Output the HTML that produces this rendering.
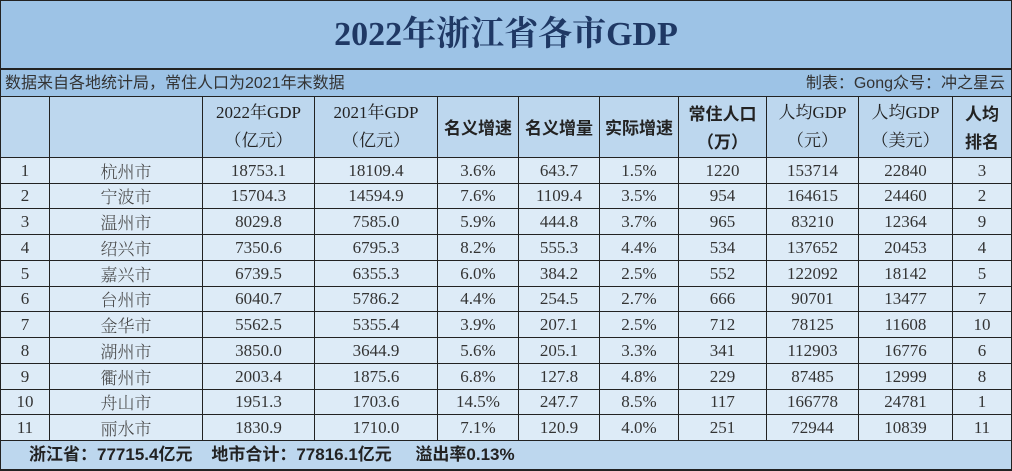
<!DOCTYPE html>
<html><head><meta charset="utf-8"><style>
body{margin:0;width:1012px;height:471px;overflow:hidden;background:#fff;font-family:"Liberation Serif","Noto Serif CJK SC",serif;}
#t{position:absolute;left:0;top:0;width:1012px;height:471px;}
.c{position:absolute;box-sizing:border-box;border-right:1px solid #222;border-bottom:1px solid #222;display:flex;align-items:center;justify-content:center;text-align:center;color:#333;font-size:17px;line-height:28px;}
</style></head><body>
<div id="t"></div>
<script>
const ranks=[1,2,3,4,5,6,7,8,9,10,11];
const cities=["杭州市","宁波市","温州市","绍兴市","嘉兴市","台州市","金华市","湖州市","衢州市","舟山市","丽水市"];
const gdp2022=["18753.1","15704.3","8029.8","7350.6","6739.5","6040.7","5562.5","3850.0","2003.4","1951.3","1830.9"];
const gdp2021=["18109.4","14594.9","7585.0","6795.3","6355.3","5786.2","5355.4","3644.9","1875.6","1703.6","1710.0"];
const nomGrowth=["3.6%","7.6%","5.9%","8.2%","6.0%","4.4%","3.9%","5.6%","6.8%","14.5%","7.1%"];
const nomIncrease=["643.7","1109.4","444.8","555.3","384.2","254.5","207.1","205.1","127.8","247.7","120.9"];
const realGrowth=["1.5%","3.5%","3.7%","4.4%","2.5%","2.7%","2.5%","3.3%","4.8%","8.5%","4.0%"];
const population=["1220","954","965","534","552","666","712","341","229","117","251"];
const perCapitaCny=["153714","164615","83210","137652","122092","90701","78125","112903","87485","166778","72944"];
const perCapitaUsd=["22840","24460","12364","20453","18142","13477","11608","16776","12999","24781","10839"];
const perCapitaRank=["3","2","9","4","5","7","10","6","8","1","11"];
const B="<b style='font-family:\"Noto Sans CJK SC\",sans-serif'>";
const headers=["","","2022年GDP<br>（亿元）","2021年GDP<br>（亿元）",B+"名义增速</b>",B+"名义增量</b>",B+"实际增速</b>",B+"常住人口<br>（万）</b>","人均GDP<br>（元）","人均GDP<br>（美元）",B+"人均<br>排名</b>"];
const colX=[0,50,203,315,438,519,600,679,767,859,953,1012];
const t=document.getElementById('t');
function cell(x,y,w,h,html,bg,name,extra){
  const d=document.createElement('div');
  d.className='c';
  
  
  d.style.cssText+=`left:${x}px;top:${y}px;width:${w}px;height:${h}px;background:${bg};`+(extra||'');
  d.innerHTML=html;t.appendChild(d);return d;
}
cell(0,0,1012,70,"2022年浙江省各市GDP","#9dc3e6","title","border-top:1px solid #222;border-left:1px solid #222;font-weight:bold;font-size:34px;color:#1f3864;font-family:'Liberation Serif','Noto Serif CJK SC',serif;border-bottom:2px solid #222;");
cell(0,70,1012,27,"","#9dc3e6","subtitle-row","border-left:1px solid #222;");
cell(0,70,700,27,"数据来自各地统计局，常住人口为2021年末数据","transparent","source-note","border:none;justify-content:flex-start;padding-left:5px;font-size:16px;font-family:'Liberation Sans','Noto Sans CJK SC',sans-serif;color:#333;");
cell(600,70,405,27,"制表：Gong众号：冲之星云","transparent","author-note","border:none;justify-content:flex-end;font-size:16px;font-family:'Liberation Sans','Noto Sans CJK SC',sans-serif;color:#333;");
for(let i=0;i<11;i++){
  cell(colX[i],97,colX[i+1]-colX[i],61,headers[i],"#bdd7ee","header-cell",(i==0?"border-left:1px solid #222;":"")+"color:#222;");
}
const rowH=283/11;
for(let r=0;r<11;r++){
  const y=Math.round(158+r*rowH);
  const y2=Math.round(158+(r+1)*rowH);
  const vals=[ranks[r],cities[r],gdp2022[r],gdp2021[r],nomGrowth[r],nomIncrease[r],realGrowth[r],population[r],perCapitaCny[r],perCapitaUsd[r],perCapitaRank[r]];
  for(let i=0;i<11;i++){
    cell(colX[i],y,colX[i+1]-colX[i],y2-y,vals[i],"#ddebf7","data-cell",(i==0?"border-left:1px solid #222;":"")+(i==1?"font-family:'Noto Serif CJK SC',serif;font-weight:300;color:#444;":""));
  }
}
cell(0,441,1012,30,"浙江省：77715.4亿元&nbsp;&nbsp;&nbsp;&nbsp;地市合计：77816.1亿元&nbsp;&nbsp;&nbsp;&nbsp;&nbsp;溢出率0.13%","#bdd7ee","summary-row","border-left:1px solid #222;border-bottom:2px solid #222;justify-content:flex-start;padding-left:28px;font-weight:bold;font-size:17px;color:#222;font-family:'Liberation Sans','Noto Sans CJK SC',sans-serif;");
</script>
</body></html>
